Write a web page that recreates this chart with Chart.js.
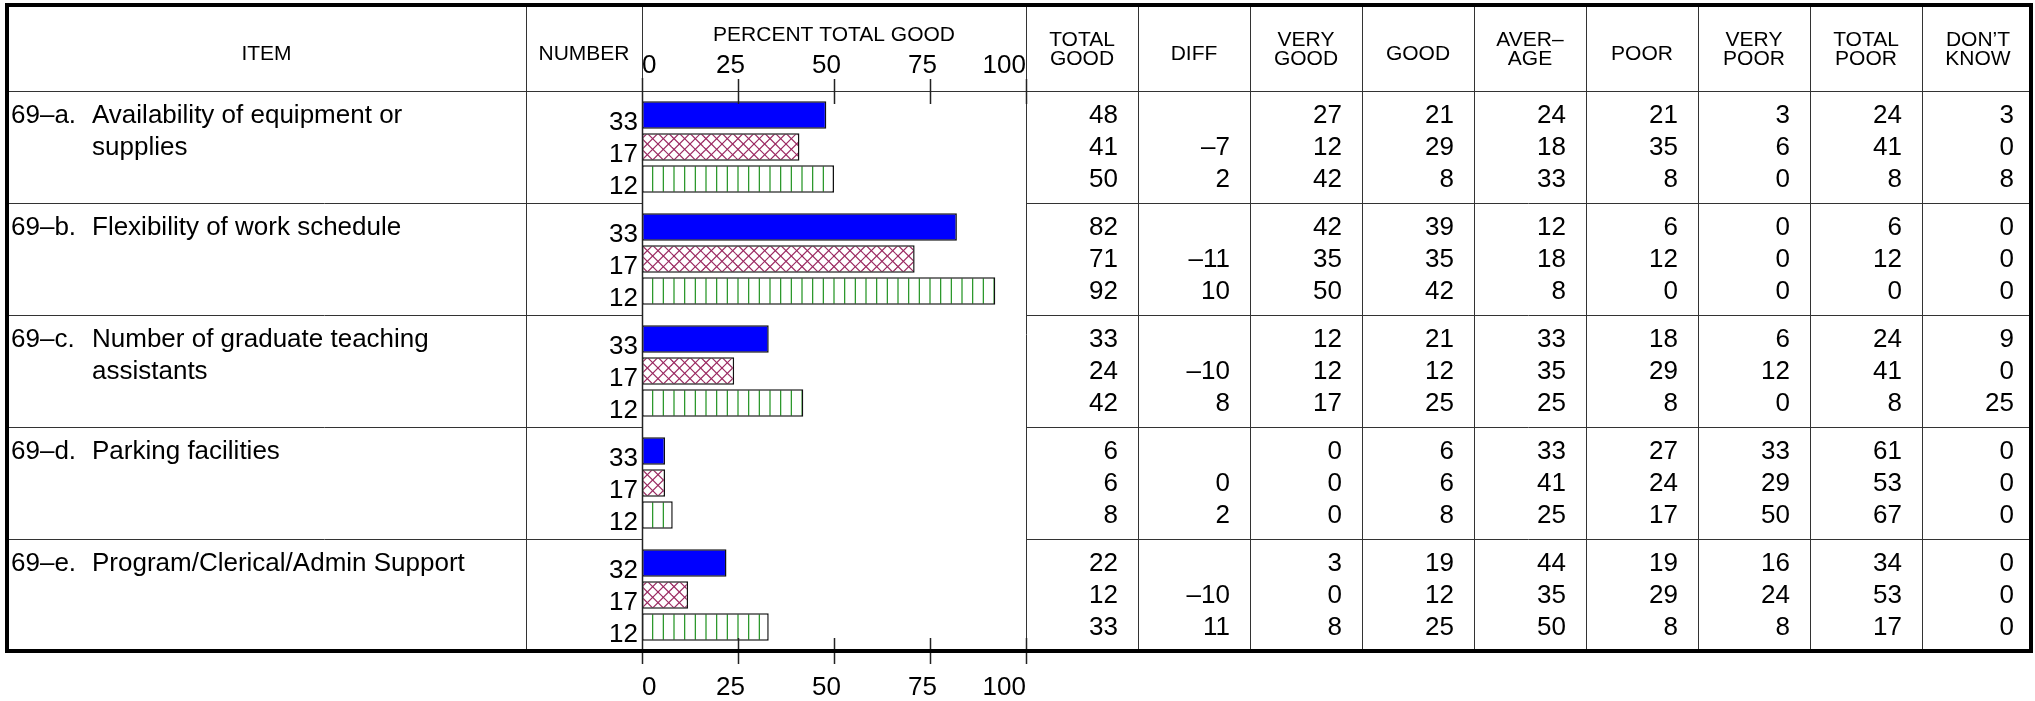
<!DOCTYPE html>
<html>
<head>
<meta charset="utf-8">
<title>Percent total good</title>
<script src="https://cdn.jsdelivr.net/npm/chart.js@4"></script>
<style>
  html, body { margin: 0; padding: 0; background: #fff; }
  canvas { display: block; }
</style>
</head>
<body>
<canvas id="myChart" width="2035" height="701"></canvas>
<script>
// Items (rows of the table)
const itemCodes = ['69–a.', '69–b.', '69–c.', '69–d.', '69–e.'];
const itemTexts = [
    ['Availability of equipment or', 'supplies'],
    ['Flexibility of work schedule'],
    ['Number of graduate teaching', 'assistants'],
    ['Parking facilities'],
    ['Program/Clerical/Admin Support']
];

// Number of respondents in each group
const numbers1 = [33, 33, 33, 33, 32];
const numbers2 = [17, 17, 17, 17, 17];
const numbers3 = [12, 12, 12, 12, 12];

// Percent total good (the bars)
const totalGood1 = [48, 82, 33, 6, 22];
const totalGood2 = [41, 71, 24, 6, 12];
const totalGood3 = [50, 92, 42, 8, 33];

// Other table columns, one [group1, group2, group3] per item
const diff = [[null, -7, 2], [null, -11, 10], [null, -10, 8], [null, 0, 2], [null, -10, 11]];
const veryGood = [[27, 12, 42], [42, 35, 50], [12, 12, 17], [0, 0, 0], [3, 0, 8]];
const good = [[21, 29, 8], [39, 35, 42], [21, 12, 25], [6, 6, 8], [19, 12, 25]];
const average = [[24, 18, 33], [12, 18, 8], [33, 35, 25], [33, 41, 25], [44, 35, 50]];
const poor = [[21, 35, 8], [6, 12, 0], [18, 29, 8], [27, 24, 17], [19, 29, 8]];
const veryPoor = [[3, 6, 0], [0, 0, 0], [6, 12, 0], [33, 29, 50], [16, 24, 8]];
const totalPoor = [[24, 41, 8], [6, 12, 0], [24, 41, 8], [61, 53, 67], [34, 53, 17]];
const dontKnow = [[3, 0, 8], [0, 0, 0], [9, 0, 25], [0, 0, 0], [0, 0, 0]];

const xTicks = [0, 25, 50, 75, 100];
const columnHeaders = [['TOTAL', 'GOOD'], ['DIFF'], ['VERY', 'GOOD'], ['GOOD'], ['AVER–', 'AGE'],
    ['POOR'], ['VERY', 'POOR'], ['TOTAL', 'POOR'], ['DON’T', 'KNOW']];

const canvas = document.getElementById('myChart');
const ctx = canvas.getContext('2d');

// Fill patterns
function crossPattern() {
    const c = document.createElement('canvas');
    c.width = 32; c.height = 32;
    const g = c.getContext('2d');
    g.fillStyle = '#fff';
    g.fillRect(0, 0, 32, 32);
    g.strokeStyle = '#9a2860';
    g.lineWidth = 1.2;
    const s = 32 / 3;
    for (let k = -4; k <= 7; k++) {
        const c0 = 2 + k * s;
        g.beginPath(); g.moveTo(c0 - 2, -2); g.lineTo(c0 + 34, 34); g.stroke();
        g.beginPath(); g.moveTo(c0 + 2, -2); g.lineTo(c0 - 34, 34); g.stroke();
    }
    return ctx.createPattern(c, 'repeat');
}
function stripePattern() {
    const c = document.createElement('canvas');
    c.width = 32; c.height = 8;
    const g = c.getContext('2d');
    g.fillStyle = '#fff';
    g.fillRect(0, 0, 32, 8);
    g.fillStyle = '#1f921f';
    const s = 32 / 3;
    for (let k = 0; k < 3; k++) {
        g.fillRect(2 + k * s - 0.6, 0, 1.2, 8);
    }
    return ctx.createPattern(c, 'repeat');
}

const fmt = v => v === null ? '' : (v < 0 ? '–' + (-v) : String(v));
const FONT = '"Liberation Sans", Arial, Helvetica, sans-serif';

// Table, axis ticks and labels around the bars
const tablePlugin = {
    id: 'tablePlugin',
    beforeDraw(chart) {
        const c = chart.ctx;
        c.save();
        c.fillStyle = '#fff';
        c.fillRect(0, 0, chart.width, chart.height);
        c.restore();
    },
    afterDatasetsDraw(chart) {
        const c = chart.ctx;
        const x = chart.scales.x, y = chart.scales.y, ca = chart.chartArea;
        const L = 7, R = 2031, T = 5, B = ca.bottom;
        const itemRight = 526;
        const colW = 112;
        const nCols = columnHeaders.length;
        const colLeft = k => ca.right + k * colW;
        const rowTop = i => y.getPixelForValue(i - 0.5);
        const tg = itemCodes.map((_, i) => [totalGood1[i], totalGood2[i], totalGood3[i]]);
        const columns = [tg, diff, veryGood, good, average, poor, veryPoor, totalPoor, dontKnow];
        const numbers = [numbers1, numbers2, numbers3];

        c.save();
        // thin grid lines
        c.strokeStyle = '#333';
        c.lineWidth = 1;
        c.beginPath();
        c.moveTo(itemRight + 0.5, T); c.lineTo(itemRight + 0.5, B);
        c.moveTo(ca.left + 0.5, T); c.lineTo(ca.left + 0.5, B + 13);
        for (let k = 0; k < nCols; k++) {
            const xx = Math.round(colLeft(k)) + 0.5;
            c.moveTo(xx, T); c.lineTo(xx, k === 0 ? B + 13 : B);
        }
        c.moveTo(L, ca.top + 0.5); c.lineTo(R, ca.top + 0.5);
        for (let i = 1; i < itemCodes.length; i++) {
            const yy = Math.round(rowTop(i)) + 0.5;
            c.moveTo(L, yy); c.lineTo(ca.left, yy);
            c.moveTo(ca.right, yy); c.lineTo(R, yy);
        }
        c.stroke();

        // axis at 0 and tick marks
        c.strokeStyle = '#222';
        c.lineWidth = 1.5;
        c.beginPath();
        c.moveTo(ca.left + 0.5, ca.top - 13); c.lineTo(ca.left + 0.5, B + 13);
        xTicks.forEach(v => {
            const px = Math.round(x.getPixelForValue(v)) + 0.5;
            c.moveTo(px, ca.top - 12); c.lineTo(px, ca.top + 13);
            c.moveTo(px, B - 13); c.lineTo(px, B + 13);
        });
        c.stroke();

        // outer frame
        c.strokeStyle = '#000';
        c.lineWidth = 4;
        c.strokeRect(L, T, R - L, B - T);

        c.fillStyle = '#000';
        c.textBaseline = 'alphabetic';

        // headers
        c.font = '21px ' + FONT;
        c.textAlign = 'center';
        c.fillText('ITEM', (L + itemRight) / 2, 60);
        c.fillText('NUMBER', (itemRight + ca.left) / 2, 60);
        c.fillText('PERCENT TOTAL GOOD', (ca.left + ca.right) / 2, 40.5);
        columnHeaders.forEach((h, k) => {
            const cx = colLeft(k) + colW / 2;
            if (h.length === 1) {
                c.fillText(h[0], cx, 60);
            } else {
                c.fillText(h[0], cx, 45.5);
                c.fillText(h[1], cx, 64.5);
            }
        });

        // tick labels, top and bottom
        c.font = '26px ' + FONT;
        xTicks.forEach((v, n) => {
            const px = x.getPixelForValue(v);
            let tx = px - 7.5;
            c.textAlign = 'center';
            if (n === 0) { c.textAlign = 'left'; tx = px; }
            if (n === xTicks.length - 1) { c.textAlign = 'right'; tx = px; }
            c.fillText(String(v), tx, 72.5);
            c.fillText(String(v), tx, 695);
        });

        // item labels
        itemCodes.forEach((code, i) => {
            const top = rowTop(i);
            c.textAlign = 'left';
            c.fillText(code, 11, top + 32);
            itemTexts[i].forEach((line, l) => c.fillText(line, 92, top + 32 + l * 32));
        });

        // respondent numbers next to each bar
        c.textAlign = 'right';
        numbers.forEach((arr, j) => {
            const meta = chart.getDatasetMeta(j);
            arr.forEach((n, i) => {
                const bar = meta.data[i];
                c.fillText(String(n), ca.left - 4, bar.y + bar.height / 2 + 1);
            });
        });

        // numeric table
        columns.forEach((col, k) => {
            const rx = colLeft(k) + 92;
            col.forEach((vals, i) => {
                const top = rowTop(i);
                vals.forEach((v, j) => c.fillText(fmt(v), rx, top + 32 + j * 32));
            });
        });
        c.restore();
    }
};

const common = {
    borderColor: '#111',
    borderWidth: 1.5,
    borderSkipped: false,
    categoryPercentage: 0.857,
    barPercentage: 0.856
};

const data = {
    labels: itemCodes,
    datasets: [
        Object.assign({ label: 'Group 1', data: totalGood1, backgroundColor: '#0000ff' }, common),
        Object.assign({ label: 'Group 2', data: totalGood2, backgroundColor: crossPattern() }, common),
        Object.assign({ label: 'Group 3', data: totalGood3, backgroundColor: stripePattern() }, common)
    ]
};

const config = {
    type: 'bar',
    data: data,
    options: {
        indexAxis: 'y',
        responsive: false,
        animation: false,
        devicePixelRatio: 1,
        layout: { padding: { left: 642, right: 1009, top: 91, bottom: 50 } },
        plugins: { legend: { display: false }, tooltip: { enabled: false } },
        scales: {
            x: { type: 'linear', min: 0, max: 100, display: false },
            y: { display: false }
        }
    },
    plugins: [tablePlugin]
};

const myChart = new Chart(canvas, config);
</script>
</body>
</html>
